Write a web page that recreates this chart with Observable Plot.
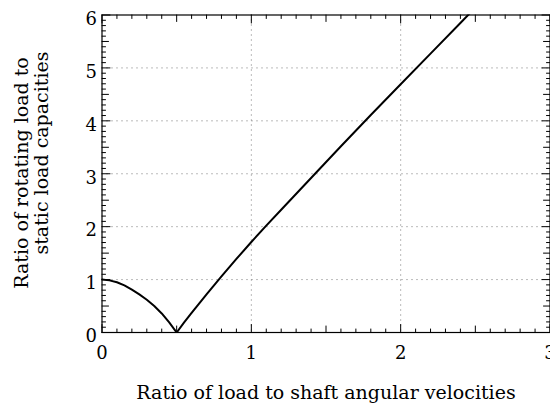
<!DOCTYPE html>
<html><head><meta charset="utf-8">
<script src="https://cdn.jsdelivr.net/npm/d3@7"></script>
<script src="https://cdn.jsdelivr.net/npm/@observablehq/plot@0.6"></script>
<style>body{margin:0;background:#fff} svg{display:block}</style>
</head><body><div id="chart"></div>
<script>
// Data
const ratioX = [0, 0.05, 0.1, 0.15, 0.2, 0.25, 0.3, 0.35, 0.4, 0.45, 0.5, 0.55, 0.6, 0.7, 0.8, 0.9, 1.0, 1.1, 1.2, 1.4, 1.6, 1.8, 2.0, 2.2, 2.4, 2.5];
const ratioY = [1.0, 0.985, 0.95, 0.89, 0.81, 0.72, 0.62, 0.5, 0.36, 0.19, 0.0, 0.19, 0.37, 0.72, 1.06, 1.39, 1.71, 2.02, 2.32, 2.92, 3.52, 4.11, 4.69, 5.27, 5.85, 6.14];
const xTickValues = [0, 1, 2, 3];
const yTickValues = [0, 1, 2, 3, 4, 5, 6];
const xGridValues = [1, 2];
const yGridValues = [1, 2, 3, 4, 5];
const xTitle = "Ratio of load to shaft angular velocities";
const yTitleLines = ["Ratio of rotating load to", "static load capacities"];

const data = ratioX.map((x, i) => ({x, y: ratioY[i]}));
const FONT = "DejaVu Serif";
const FS = 18, TS = 19;
const tickShape = {draw(ctx, l) { ctx.moveTo(0, 0); ctx.lineTo(0, -l); }};
const xMinor = d3.range(1, 30).filter(i => i % 5 !== 0).map(i => i / 10);
const xMid = d3.range(5, 30, 10).map(i => i / 10);
const yMinor = d3.range(1, 60).filter(i => i % 5 !== 0).map(i => i / 10);
const yMid = d3.range(5, 60, 10).map(i => i / 10);
const xMajor = xTickValues, yMajor = yTickValues;

function xTicks(values, len) {
  return [
    Plot.vector(values, {x: d => d, y: () => 0, length: len, rotate: 0, anchor: "start", shape: tickShape, stroke: "black", strokeWidth: 1}),
    Plot.vector(values, {x: d => d, y: () => 6, length: len, rotate: 180, anchor: "start", shape: tickShape, stroke: "black", strokeWidth: 1})
  ];
}
function yTicks(values, len) {
  return [
    Plot.vector(values, {y: d => d, x: () => 0, length: len, rotate: 90, anchor: "start", shape: tickShape, stroke: "black", strokeWidth: 1}),
    Plot.vector(values, {y: d => d, x: () => 3, length: len, rotate: -90, anchor: "start", shape: tickShape, stroke: "black", strokeWidth: 1})
  ];
}

const chart = Plot.plot({
  width: 550, height: 408,
  marginLeft: 101.5, marginRight: 0.5, marginTop: 14.5, marginBottom: 76,
  x: {domain: [0, 3]},
  y: {domain: [0, 6]},
  style: {background: "white", color: "black"},
  marks: [
    Plot.ruleX(xGridValues, {x: d => d, stroke: "#777", strokeDasharray: "1,4"}),
    Plot.ruleY(yGridValues, {y: d => d, stroke: "#777", strokeDasharray: "1,4"}),
    Plot.line(data, {x: "x", y: "y", stroke: "black", strokeWidth: 2, clip: true}),
    Plot.frame({stroke: "black", strokeWidth: 1.2}),
    ...xTicks(xMinor, 3.5), ...xTicks(xMid, 6.5), ...xTicks(xMajor, 8),
    ...yTicks(yMinor, 3.5), ...yTicks(yMid, 6.5), ...yTicks(yMajor, 8),
    Plot.axisX(xTickValues, {tickSize: 0, tickPadding: 14, label: null, tickFormat: d3.format("d"), fontFamily: FONT, fontSize: FS, fill: "black"}),
    Plot.axisY(yTickValues, {tickSize: 0, tickPadding: 5, dy: 4, label: null, tickFormat: d3.format("d"), fontFamily: FONT, fontSize: FS, fill: "black"})
  ]
});
document.getElementById("chart").append(chart);

const svg = d3.select(chart);
svg.append("text")
  .attr("x", 326).attr("y", 399)
  .attr("text-anchor", "middle")
  .attr("font-family", FONT).attr("font-size", TS).attr("fill", "black")
  .text(xTitle);
const yCenters = [173, 153], yBase = [28, 48];
yTitleLines.forEach((t, i) => {
  svg.append("text")
    .attr("transform", `translate(${yBase[i]},${yCenters[i]}) rotate(-90)`)
    .attr("text-anchor", "middle")
    .attr("font-family", FONT).attr("font-size", TS).attr("fill", "black")
    .text(t);
});
</script>
</body></html>
